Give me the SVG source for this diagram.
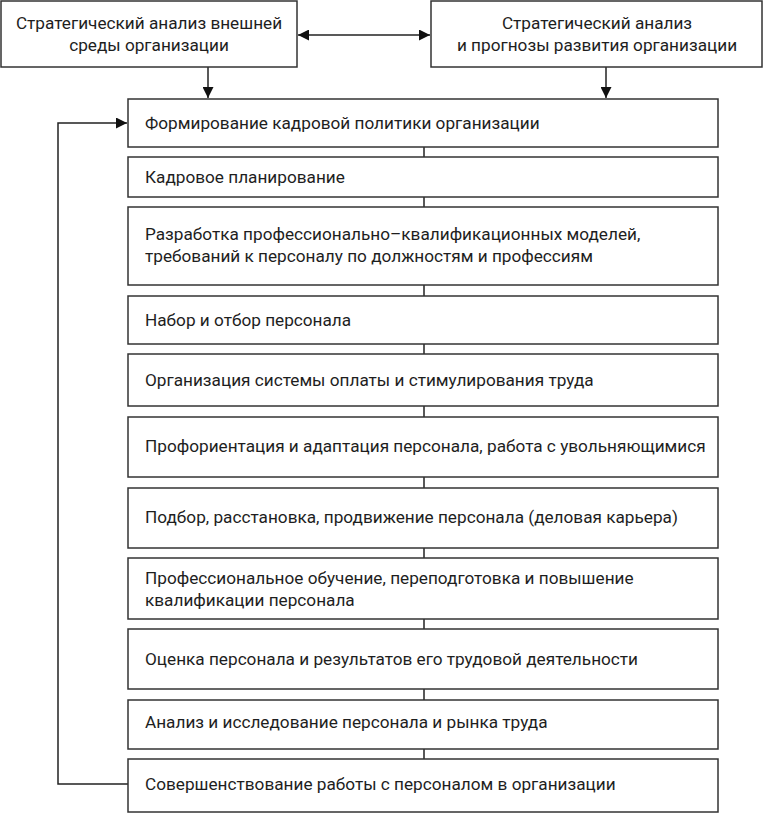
<svg xmlns="http://www.w3.org/2000/svg" width="763" height="813" viewBox="0 0 763 813">
<style>
.box{fill:#fff;stroke:#333;stroke-width:1.5}
.t{font-family:Roboto,"Liberation Sans",sans-serif;font-size:17.2px;fill:#1e1e1e}
.c{text-anchor:middle}
.ln{fill:none;stroke:#222;stroke-width:1.5}
</style>
<defs>
<marker id="ah" viewBox="0 0 10 10" refX="10" refY="5" markerWidth="11" markerHeight="11" markerUnits="userSpaceOnUse" orient="auto-start-reverse">
<path d="M0,0 L10,5 L0,10 z" fill="#111"/>
</marker>
</defs>
<g id="connectors">
<line class="ln" x1="298" y1="35" x2="430" y2="35" marker-start="url(#ah)" marker-end="url(#ah)"/>
<line class="ln" x1="208" y1="67" x2="208" y2="98" marker-end="url(#ah)"/>
<line class="ln" x1="606" y1="67" x2="606" y2="98" marker-end="url(#ah)"/>
<polyline class="ln" points="128,784 58,784 58,123 127,123" marker-end="url(#ah)"/>
<line class="ln" x1="424" y1="147" x2="424" y2="157"/>
<line class="ln" x1="424" y1="197" x2="424" y2="207"/>
<line class="ln" x1="424" y1="285" x2="424" y2="296"/>
<line class="ln" x1="424" y1="344" x2="424" y2="354"/>
<line class="ln" x1="424" y1="406" x2="424" y2="417"/>
<line class="ln" x1="424" y1="477" x2="424" y2="488"/>
<line class="ln" x1="424" y1="548" x2="424" y2="558"/>
<line class="ln" x1="424" y1="619" x2="424" y2="629"/>
<line class="ln" x1="424" y1="689" x2="424" y2="700"/>
<line class="ln" x1="424" y1="749" x2="424" y2="759"/>
</g>
<g id="n_ext">
<rect class="box" x="1" y="1" width="296" height="66"/>
<text class="t c" x="149" y="29">Стратегический анализ внешней</text>
<text class="t c" x="149" y="51">среды организации</text>
</g>
<g id="n_prog">
<rect class="box" x="431" y="1" width="331" height="66"/>
<text class="t c" x="597" y="29">Стратегический анализ</text>
<text class="t c" x="597" y="51">и прогнозы развития организации</text>
</g>
<g id="n1">
<rect class="box" x="128" y="99" width="590" height="48"/>
<text class="t" x="145" y="129">Формирование кадровой политики организации</text>
</g>
<g id="n2">
<rect class="box" x="128" y="157" width="590" height="40"/>
<text class="t" x="145" y="183">Кадровое планирование</text>
</g>
<g id="n3">
<rect class="box" x="128" y="207" width="590" height="78"/>
<text class="t" x="145" y="240">Разработка профессионально–квалификационных моделей,</text>
<text class="t" x="145" y="262">требований к персоналу по должностям и профессиям</text>
</g>
<g id="n4">
<rect class="box" x="128" y="296" width="590" height="48"/>
<text class="t" x="145" y="326">Набор и отбор персонала</text>
</g>
<g id="n5">
<rect class="box" x="128" y="354" width="590" height="52"/>
<text class="t" x="145" y="386">Организация системы оплаты и стимулирования труда</text>
</g>
<g id="n6">
<rect class="box" x="128" y="417" width="590" height="60"/>
<text class="t" x="145" y="452">Профориентация и адаптация персонала, работа с увольняющимися</text>
</g>
<g id="n7">
<rect class="box" x="128" y="488" width="590" height="60"/>
<text class="t" x="145" y="523">Подбор, расстановка, продвижение персонала (деловая карьера)</text>
</g>
<g id="n8">
<rect class="box" x="128" y="558" width="590" height="61"/>
<text class="t" x="145" y="584">Профессиональное обучение, переподготовка и повышение</text>
<text class="t" x="145" y="606">квалификации персонала</text>
</g>
<g id="n9">
<rect class="box" x="128" y="629" width="590" height="60"/>
<text class="t" x="145" y="665">Оценка персонала и результатов его трудовой деятельности</text>
</g>
<g id="n10">
<rect class="box" x="128" y="700" width="590" height="49"/>
<text class="t" x="145" y="728">Анализ и исследование персонала и рынка труда</text>
</g>
<g id="n11">
<rect class="box" x="128" y="759" width="590" height="53"/>
<text class="t" x="145" y="790">Совершенствование работы с персоналом в организации</text>
</g>
</svg>
